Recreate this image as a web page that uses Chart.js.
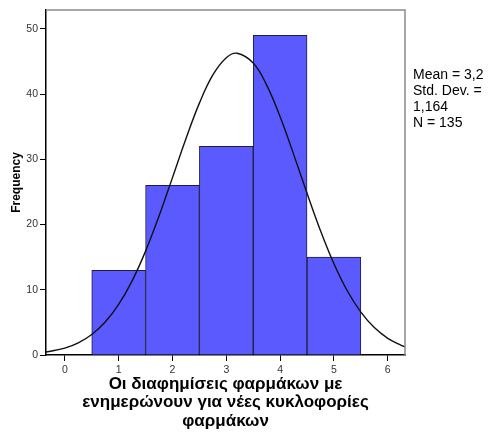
<!DOCTYPE html>
<html>
<head>
<meta charset="utf-8">
<script src="https://cdn.jsdelivr.net/npm/chart.js@4/dist/chart.umd.min.js"></script>
<style>
  html, body { margin: 0; padding: 0; background: #fff; }
  #wrap { width: 497px; height: 435px; }
</style>
</head>
<body>
<div id="wrap"><canvas id="histChart"></canvas></div>
<script>
// histogram bins (score) and their counts
const binCenters = [1, 2, 3, 4, 5];
const binCounts = [13, 26, 32, 49, 15];

// fitted normal curve, sampled along the x axis
const curveX = [-0.35, 0, 0.25, 0.5, 0.75, 1, 1.25, 1.5, 1.75, 2, 2.25, 2.5, 2.75, 3, 3.2,
                3.5, 3.75, 4, 4.25, 4.5, 4.75, 5, 5.25, 5.5, 5.75, 6, 6.25, 6.32];
const curveY = [0.45, 1.06, 1.86, 3.14, 5.05, 7.76, 11.37, 15.93, 21.3, 27.2, 33.16, 38.62, 42.94, 45.59, 46.27,
                44.76, 41.38, 36.53, 30.8, 24.8, 19.07, 14.0, 9.81, 6.57, 4.2, 2.56, 1.49, 1.26];

const xTicks = [0, 1, 2, 3, 4, 5, 6];
const yTicks = [0, 10, 20, 30, 40, 50];

const statsLines = ['Mean = 3,2', 'Std. Dev. =', '1,164', 'N = 135'];
const xTitle = ['Οι διαφημίσεις φαρμάκων με', 'ενημερώνουν για νέες κυκλοφορίες', 'φαρμάκων'];
const yTitle = 'Frequency';

const FONT = "'Liberation Sans', Arial, sans-serif";

// top/right frame and the stats box text
const framePlugin = {
  id: 'frame',
  afterDraw(chart) {
    const { ctx, chartArea: a } = chart;
    ctx.save();
    ctx.strokeStyle = '#8a8a8a';
    ctx.lineWidth = 1.5;
    ctx.beginPath();
    ctx.moveTo(a.left, a.top);
    ctx.lineTo(a.right, a.top);
    ctx.lineTo(a.right, a.bottom);
    ctx.stroke();

    ctx.fillStyle = '#000';
    ctx.font = '14px ' + FONT;
    ctx.textBaseline = 'middle';
    statsLines.forEach((s, i) => {
      ctx.fillText(s, a.right + 8, 75 + i * 16);
    });
    ctx.restore();
  }
};

const ctx = document.getElementById('histChart').getContext('2d');
new Chart(ctx, {
  type: 'bar',
  data: {
    datasets: [{
      type: 'line',
      data: curveX.map((x, i) => ({ x: x, y: curveY[i] })),
      borderColor: '#111',
      borderWidth: 1.4,
      pointRadius: 0,
      tension: 0.4,
      fill: false
    }, {
      type: 'bar',
      data: binCenters.map((x, i) => ({ x: x, y: binCounts[i] })),
      backgroundColor: '#5a5aff',
      borderColor: '#1e1e3a',
      borderWidth: 1,
      barPercentage: 1,
      categoryPercentage: 1
    }]
  },
  options: {
    responsive: true,
    maintainAspectRatio: false,
    animation: false,
    layout: { padding: { top: 10, right: 92, left: 0, bottom: 0 } },
    plugins: {
      legend: { display: false },
      tooltip: { enabled: false }
    },
    scales: {
      x: {
        type: 'linear',
        offset: false,
        min: -0.35,
        max: 6.32,
        afterFit(s) { s.height = 80; },
        afterBuildTicks(s) { s.ticks = xTicks.map(v => ({ value: v })); },
        border: { color: '#000', width: 1.5 },
        grid: { drawOnChartArea: false, offset: false, color: '#000', tickLength: 6 },
        ticks: { color: '#333', font: { family: FONT, size: 10.5 }, padding: 3 },
        title: {
          display: true,
          text: xTitle,
          color: '#000',
          font: { family: FONT, size: 17, weight: 'bold', lineHeight: 1.07 },
          padding: { top: 0, bottom: 5 }
        }
      },
      y: {
        min: 0,
        max: 52.9,
        afterFit(s) { s.width = 46; },
        afterBuildTicks(s) { s.ticks = yTicks.map(v => ({ value: v })); },
        border: { color: '#000', width: 1.5 },
        grid: { drawOnChartArea: false, color: '#000', tickLength: 6 },
        ticks: { color: '#333', font: { family: FONT, size: 10.5 }, padding: 2 },
        title: {
          display: true,
          text: yTitle,
          color: '#000',
          font: { family: FONT, size: 12, weight: 'bold' },
          padding: { top: 9, bottom: 0 }
        }
      }
    }
  },
  plugins: [framePlugin]
});
</script>
</body>
</html>
